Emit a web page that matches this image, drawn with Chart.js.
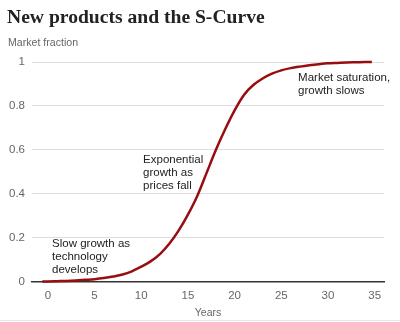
<!DOCTYPE html>
<html>
<head>
<meta charset="utf-8">
<script src="https://cdn.jsdelivr.net/npm/chart.js@4/dist/chart.umd.min.js"></script>
<style>
  html, body { margin: 0; padding: 0; background: #fff; }
  #wrap { width: 400px; height: 322px; position: relative; }
</style>
</head>
<body>
<div id="wrap"><canvas id="sCurve"></canvas></div>
<script>
// years since launch and the share of the market reached
var years = [-0.6, 0, 1, 2, 3, 4, 5, 6, 7, 8, 9, 10, 11, 12, 13, 14, 15, 16, 17,
  18, 19, 20, 21, 22, 23, 24, 25, 26, 27, 28, 29, 30, 31, 32, 33, 34, 34.7];
var fraction = [0, 0.001, 0.002, 0.003, 0.005, 0.008, 0.011, 0.016, 0.023, 0.032,
  0.047, 0.068, 0.092, 0.125, 0.172, 0.232, 0.305, 0.39, 0.495, 0.6, 0.695, 0.78,
  0.85, 0.895, 0.925, 0.947, 0.962, 0.972, 0.979, 0.985, 0.99, 0.994, 0.996,
  0.998, 0.999, 1, 1];
var xTicks = [0, 5, 10, 15, 20, 25, 30, 35];
var yTicks = [0, 0.2, 0.4, 0.6, 0.8, 1];

var chartTitle = 'New products and the S-Curve';
var yLabel = 'Market fraction';
var xLabel = 'Years';
var notes = [
  ['Slow growth as', 'technology', 'develops'],
  ['Exponential', 'growth as', 'prices fall'],
  ['Market saturation,', 'growth slows']
];

var SANS = '"Liberation Sans", Arial, sans-serif';

// header text above the plot
var headerPlugin = {
  id: 'header',
  afterDraw: function(chart) {
    var ctx = chart.ctx;
    ctx.save();
    ctx.textAlign = 'left';
    ctx.textBaseline = 'alphabetic';
    ctx.fillStyle = '#222';
    ctx.font = 'bold 19.6px "Liberation Serif", serif';
    ctx.fillText(chartTitle, 7, 23);
    ctx.fillStyle = '#666';
    ctx.font = '10.6px ' + SANS;
    ctx.fillText(yLabel, 8, 46);
    // thin rule along the bottom
    ctx.strokeStyle = '#e8e8e8';
    ctx.lineWidth = 1;
    ctx.beginPath();
    ctx.moveTo(0, chart.height - 1.5);
    ctx.lineTo(chart.width, chart.height - 1.5);
    ctx.stroke();
    ctx.restore();
  }
};

// text notes placed in data space
var notesPlugin = {
  id: 'notes',
  afterDatasetsDraw: function(chart, args, opts) {
    var ctx = chart.ctx;
    var xs = chart.scales.x, ys = chart.scales.y;
    ctx.save();
    ctx.fillStyle = '#222';
    ctx.font = '11.5px ' + SANS;
    ctx.textAlign = 'left';
    ctx.textBaseline = 'middle';
    notes.forEach(function(lines, i) {
      var at = opts.anchors[i];
      var px = xs.getPixelForValue(at[0]);
      var py = ys.getPixelForValue(at[1]);
      lines.forEach(function(t, j) {
        ctx.fillText(t, px, py + j * 13);
      });
    });
    ctx.restore();
  }
};

var ctx = document.getElementById('sCurve').getContext('2d');
var chart = new Chart(ctx, {
  type: 'line',
  data: {
    datasets: [{
      data: years.map(function(x, i) { return { x: x, y: fraction[i] }; }),
      borderColor: '#980d10',
      borderWidth: 2.5,
      pointRadius: 0,
      fill: false,
      tension: 0.4,
      cubicInterpolationMode: 'monotone',
      clip: false
    }]
  },
  options: {
    responsive: true,
    maintainAspectRatio: false,
    animation: false,
    layout: { padding: { top: 62, right: 16, bottom: 3, left: 0 } },
    plugins: {
      legend: { display: false },
      tooltip: { enabled: false },
      notes: { anchors: [[0.45, 0.173], [10.2, 0.556], [26.8, 0.93]] }
    },
    scales: {
      x: {
        type: 'linear',
        min: -1.7,
        max: 36,
        afterBuildTicks: function(s) {
          s.ticks = xTicks.map(function(v) { return { value: v }; });
        },
        grid: { display: false, drawTicks: false },
        border: { display: true, color: '#333', width: 1.5 },
        ticks: { color: '#666', padding: 7, maxRotation: 0, font: { family: SANS, size: 11.5 } },
        title: {
          display: true,
          text: xLabel,
          color: '#666',
          padding: { top: -3, bottom: 0 },
          font: { family: SANS, size: 10.5 }
        }
      },
      y: {
        min: 0,
        max: 1,
        afterBuildTicks: function(s) {
          s.ticks = yTicks.map(function(v) { return { value: v }; });
        },
        afterFit: function(s) { s.width = 32; },
        grid: {
          drawTicks: false,
          color: function(c) { return c.tick && c.tick.value === 0 ? 'rgba(0,0,0,0)' : '#dedede'; },
          lineWidth: 1
        },
        border: { display: false },
        ticks: {
          color: '#666',
          padding: 7,
          font: { family: SANS, size: 11.5 },
          callback: function(v) { return String(Math.round(v * 10) / 10); }
        }
      }
    }
  },
  plugins: [headerPlugin, notesPlugin]
});
</script>
</body>
</html>
